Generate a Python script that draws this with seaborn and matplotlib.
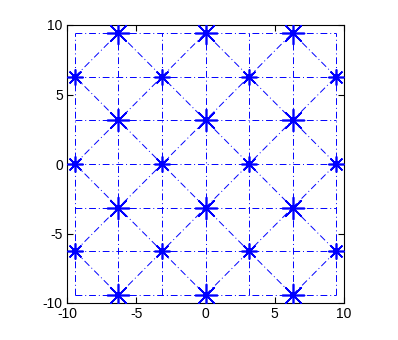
import numpy as np
import pandas as pd
import matplotlib
matplotlib.use("Agg")
import matplotlib.pyplot as plt
import seaborn as sns

# grid multiples of pi
grid_k = [-3, -2, -1, 0, 1, 2, 3]
diag_c = [-5, -3, -1, 1, 3, 5]
tick_vals = [-10, -5, 0, 5, 10]
tick_labels = ["-10", "-5", "0", "5", "10"]

sns.set_theme(style="white")
plt.rcParams['font.family'] = ['Liberation Sans', 'DejaVu Sans']

fig = plt.figure(figsize=(3.98, 3.40), dpi=100)
ax = fig.add_axes([67/398, 1-303/340, 277/398, 278/340])

lo, hi = -3*np.pi, 3*np.pi
rows = []
uid = 0
# horizontal and vertical lines
for k in grid_k:
    v = k*np.pi
    rows += [(uid, lo, v), (uid, hi, v)]; uid += 1
    rows += [(uid, v, lo), (uid, v, hi)]; uid += 1
# diagonals x+y=c*pi and x-y=c*pi, clipped
for c in diag_c:
    cc = c*np.pi
    x0, x1 = max(lo, cc-hi), min(hi, cc-lo)
    rows += [(uid, x0, cc-x0), (uid, x1, cc-x1)]; uid += 1
    x0, x1 = max(lo, cc+lo), min(hi, cc+hi)
    rows += [(uid, x0, x0-cc), (uid, x1, x1-cc)]; uid += 1
lines = pd.DataFrame(rows, columns=["u", "x", "y"])

sns.lineplot(data=lines, x="x", y="y", units="u", estimator=None, sort=False,
             color="blue", lw=0.7, ax=ax, legend=False)
for ln in ax.lines:
    ln.set_linestyle((0, (7, 3, 1, 3)))

pts = [(i*np.pi, j*np.pi, i % 2 == 0) for i in grid_k for j in grid_k if (i+j) % 2 != 0]
pdf = pd.DataFrame(pts, columns=["x", "y", "even"])
for even, ms in [(True, 250), (False, 120)]:
    sub = pdf[pdf["even"] == even]
    sns.scatterplot(data=sub, x="x", y="y", marker=(8, 2, 0), s=ms, color="blue",
                    linewidth=1.2, ax=ax, legend=False, zorder=3)
    sns.scatterplot(data=sub, x="x", y="y", marker="s", s=22, color="blue",
                    linewidth=0, ax=ax, legend=False, zorder=4)

ax.set_xlim(-10, 10)
ax.set_ylim(-10, 10)
ax.set_xticks(tick_vals)
ax.set_xticklabels(tick_labels)
ax.set_yticks(tick_vals)
ax.set_yticklabels(tick_labels)
ax.set_xlabel("")
ax.set_ylabel("")
ax.tick_params(direction="in", length=4, width=0.8, colors="black", labelsize=10,
               top=True, right=True, bottom=True, left=True, pad=3)
for s in ax.spines.values():
    s.set_color("black")
    s.set_linewidth(0.8)

fig.savefig("out.png", dpi=100)
